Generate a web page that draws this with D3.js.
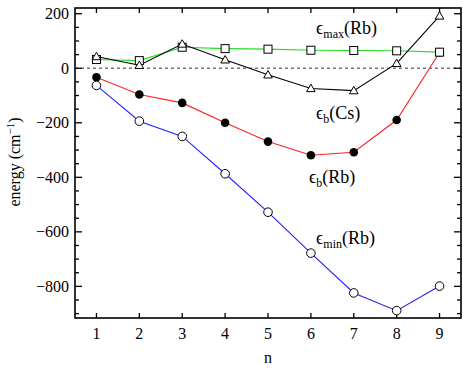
<!DOCTYPE html>
<html><head><meta charset="utf-8">
<script src="https://cdn.jsdelivr.net/npm/d3@7"></script>
<style>body{margin:0;background:#fff}svg{display:block}</style>
</head><body>
<svg id="c" width="463" height="371"></svg>
<script>
const nValues = [1,2,3,4,5,6,7,8,9];
const epsMinRb = [-63,-194,-250,-387,-528,-678,-824,-889,-799];
const epsBRb   = [-33,-96,-127,-200,-269,-319,-308,-190,58];
const epsMaxRb = [32,28,77,72,70,66,65,64,59];
const epsBCs   = [43,11,89,31,-24,-74,-82,18,192];
const yTicks = [200,0,-200,-400,-600,-800];
const xTicks = [1,2,3,4,5,6,7,8,9];

const svg = d3.select("#c");
const L=75,R=461,T=8,B=318;
const x = d3.scaleLinear().domain([0.5,9.5]).range([L,R]);
const y = d3.scaleLinear().domain([-916,221]).range([B,T]);
const font = "'Liberation Serif','Times New Roman',serif";

// zero line
svg.append("line").attr("x1",L).attr("x2",R).attr("y1",y(0)).attr("y2",y(0))
  .attr("stroke","#777").attr("stroke-width",1.3).attr("stroke-dasharray","3,3");

// ticks
const g = svg.append("g").attr("stroke","#000").attr("stroke-width",1.3);
d3.range(-900,201,50).forEach(v=>{
  const major = v%200===0;
  const len = major?7:4;
  g.append("line").attr("x1",L).attr("x2",L+len).attr("y1",y(v)).attr("y2",y(v));
  g.append("line").attr("x1",R).attr("x2",R-len).attr("y1",y(v)).attr("y2",y(v));
});
xTicks.forEach(v=>{
  g.append("line").attr("x1",x(v)).attr("x2",x(v)).attr("y1",B).attr("y2",B-5);
  g.append("line").attr("x1",x(v)).attr("x2",x(v)).attr("y1",T).attr("y2",T+5);
});
svg.append("rect").attr("x",L).attr("y",T).attr("width",R-L).attr("height",B-T)
  .attr("fill","none").attr("stroke","#000").attr("stroke-width",1.6);

// tick labels
yTicks.forEach(v=>{
  svg.append("text").attr("x",L-6).attr("y",y(v)).attr("dy","0.35em")
    .attr("text-anchor","end").attr("font-family",font).attr("font-size",16)
    .text(v<0?"\u2212"+(-v):String(v));
});
xTicks.forEach(v=>{
  svg.append("text").attr("x",x(v)).attr("y",B+21).attr("text-anchor","middle")
    .attr("font-family",font).attr("font-size",16).text(v);
});
svg.append("text").attr("x",x(5)).attr("y",363).attr("text-anchor","middle")
  .attr("font-family",font).attr("font-size",16).text("n");
const yl = svg.append("text").attr("transform","translate(20,162) rotate(-90)")
  .attr("text-anchor","middle").attr("font-family",font).attr("font-size",16);
yl.append("tspan").text("energy (cm");
yl.append("tspan").attr("dy",-6).attr("font-size",11).text("\u22121");
yl.append("tspan").attr("dy",6).text(")");

const line = d3.line().x((d,i)=>x(nValues[i])).y(d=>y(d));
function path(data,color){
  svg.append("path").datum(data).attr("d",line).attr("fill","none")
    .attr("stroke",color).attr("stroke-width",1.1);
}
path(epsMaxRb,"#22dd22");
path(epsBCs,"#000");
path(epsBRb,"#ff2020");
path(epsMinRb,"#2020ff");

// markers
svg.selectAll(".fc").data(epsBRb).enter().append("circle")
  .attr("cx",(d,i)=>x(nValues[i])).attr("cy",d=>y(d)).attr("r",4.3).attr("fill","#000");
svg.selectAll(".oc").data(epsMinRb).enter().append("circle")
  .attr("cx",(d,i)=>x(nValues[i])).attr("cy",d=>y(d)).attr("r",4.3)
  .attr("fill","#fff").attr("stroke","#000").attr("stroke-width",1);
svg.selectAll(".sq").data(epsMaxRb).enter().append("rect")
  .attr("x",(d,i)=>x(nValues[i])-4).attr("y",d=>y(d)-4).attr("width",8).attr("height",8)
  .attr("fill","#fff").attr("stroke","#000").attr("stroke-width",1);
const tri = d3.symbol().type(d3.symbolTriangle).size(32);
svg.selectAll(".tr").data(epsBCs).enter().append("path")
  .attr("d",tri).attr("transform",(d,i)=>`translate(${x(nValues[i])},${y(d)+0.7})`)
  .attr("fill","#fff").attr("stroke","#000").attr("stroke-width",1);

// labels
function lab(xp,yp,sub,rest){
  const t = svg.append("text").attr("x",xp).attr("y",yp).attr("font-family",font).attr("font-size",18);
  t.append("tspan").text("\u03F5");
  t.append("tspan").attr("dy",4).attr("font-size",12).text(sub);
  t.append("tspan").attr("dy",-4).text(rest);
}
lab(316,34,"max","(Rb)");
lab(316,119,"b","(Cs)");
lab(309,183,"b","(Rb)");
lab(316,244,"min","(Rb)");
</script>
</body></html>
